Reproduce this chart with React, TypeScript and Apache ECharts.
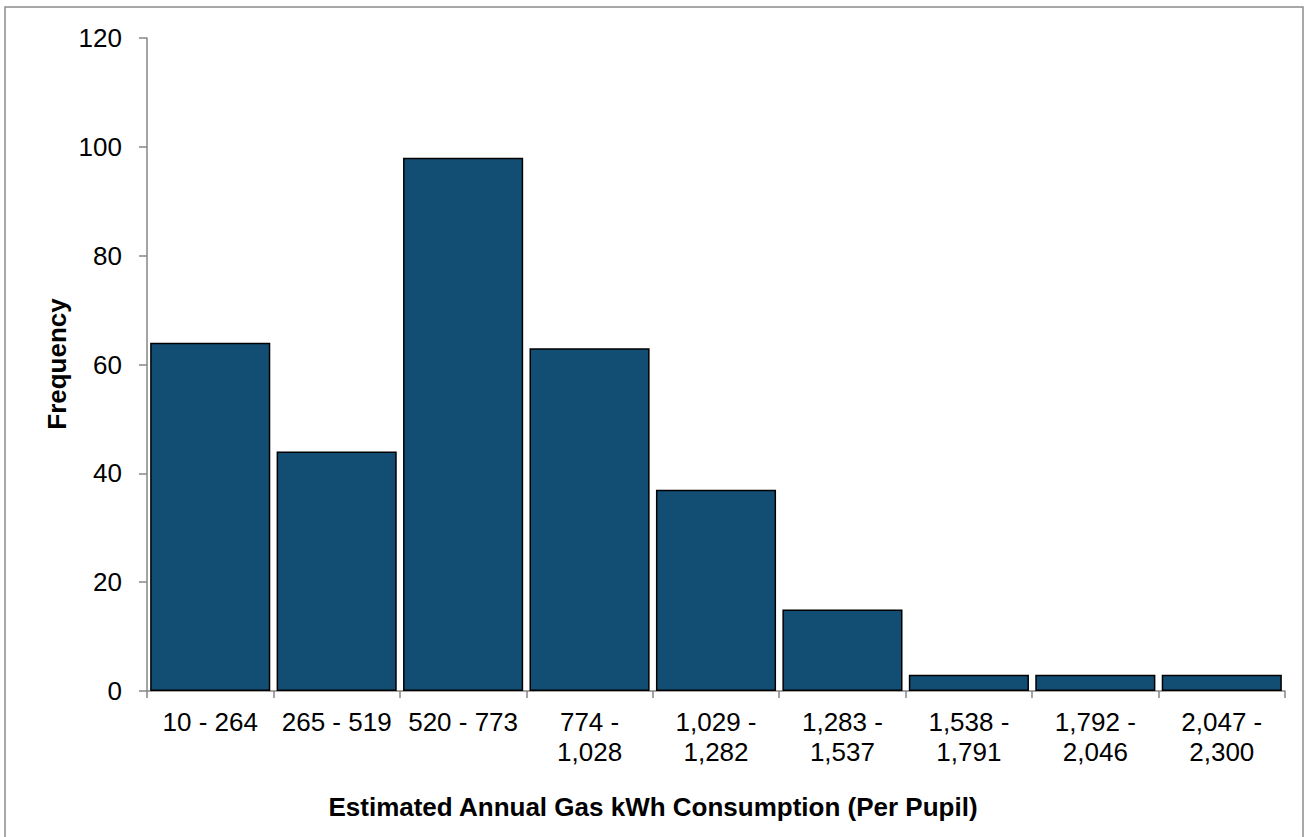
import React, { useEffect, useRef } from "react";
import * as echarts from "echarts";

const categories = [
  "10 - 264",
  "265 - 519",
  "520 - 773",
  "774 -\n1,028",
  "1,029 -\n1,282",
  "1,283 -\n1,537",
  "1,538 -\n1,791",
  "1,792 -\n2,046",
  "2,047 -\n2,300",
];
const frequency = [64, 44, 98, 63, 37, 15, 3, 3, 3];
const yTicks = { min: 0, max: 120, interval: 20 };
const xTitle = "Estimated Annual Gas kWh Consumption (Per Pupil)";
const yTitle = "Frequency";

const FONT = "'Liberation Sans', Arial, sans-serif";
const AXIS_COLOR = "#868686";

export default function App() {
  const ref = useRef<HTMLDivElement>(null);
  useEffect(() => {
    if (!ref.current) return;
    const chart = echarts.init(ref.current, undefined, { renderer: "svg" });
    chart.setOption({
      animation: false,
      backgroundColor: "#ffffff",
      textStyle: { fontFamily: FONT },
      grid: { left: 147, right: 20, top: 38, bottom: 146, containLabel: false },
      graphic: [
        {
          type: "rect",
          shape: { x: 5, y: 7, width: 1298, height: 840 },
          style: { fill: "none", stroke: "#8c8c8c", lineWidth: 1.5 },
          silent: true,
        },
        {
          type: "text",
          x: 653,
          y: 807,
          style: {
            text: xTitle,
            fontFamily: FONT,
            fontSize: 26,
            fontWeight: "bold",
            fill: "#000",
            align: "center",
            verticalAlign: "middle",
          },
        },
        {
          type: "text",
          x: 57,
          y: 364,
          rotation: Math.PI / 2,
          style: {
            text: yTitle,
            fontFamily: FONT,
            fontSize: 26,
            fontWeight: "bold",
            fill: "#000",
            align: "center",
            verticalAlign: "middle",
          },
        },
      ],
      xAxis: {
        type: "category",
        data: categories,
        boundaryGap: true,
        axisLine: { show: true, lineStyle: { color: AXIS_COLOR, width: 1.5 } },
        axisTick: { show: true, alignWithLabel: false, length: 7, lineStyle: { color: AXIS_COLOR, width: 1.5 } },
        axisLabel: {
          interval: 0,
          fontFamily: FONT,
          fontSize: 26,
          lineHeight: 30,
          color: "#000",
          margin: 16,
        },
        splitLine: { show: false },
      },
      yAxis: {
        type: "value",
        min: yTicks.min,
        max: yTicks.max,
        interval: yTicks.interval,
        axisLine: { show: true, lineStyle: { color: AXIS_COLOR, width: 1.5 } },
        axisTick: { show: true, inside: false, length: 8, lineStyle: { color: AXIS_COLOR, width: 1.5 } },
        axisLabel: { fontFamily: FONT, fontSize: 26, color: "#000", margin: 25 },
        splitLine: { show: false },
      },
      series: [
        {
          type: "bar",
          data: frequency,
          barCategoryGap: "5%",
          itemStyle: { color: "#124E73", borderColor: "#000000", borderWidth: 1.5 },
        },
      ],
    });
    return () => chart.dispose();
  }, []);
  return (
    <div style={{ position: "absolute", left: 0, top: 0, width: 1305, height: 837, background: "#fff" }}>
      <div ref={ref} style={{ width: 1305, height: 837 }} />
    </div>
  );
}
